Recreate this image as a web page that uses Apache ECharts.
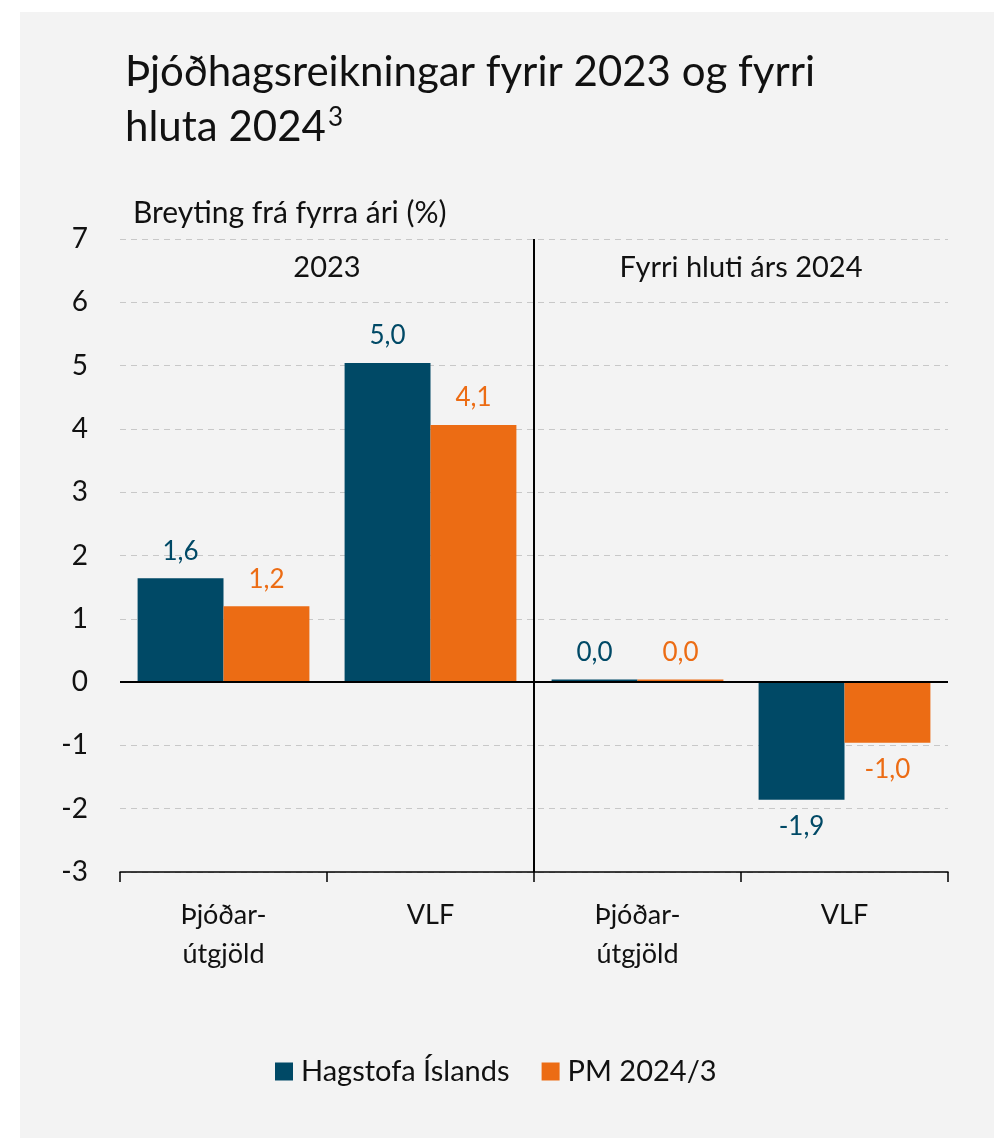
<!DOCTYPE html>
<html>
<head>
<meta charset="utf-8">
<script src="https://cdn.jsdelivr.net/npm/echarts@6/dist/echarts.min.js"></script>
<style>
  html, body { margin: 0; padding: 0; background: #ffffff; }
  #chart { position: absolute; left: 20px; top: 12px; width: 974px; height: 1126px; background: #f3f3f3; }
</style>
</head>
<body>
<div id="chart"></div>
<script>
const categories = ['Þjóðar-\nútgjöld', 'VLF', 'Þjóðar-\nútgjöld', 'VLF'];
const groups = ['2023', 'Fyrri hluti árs 2024'];
const groupBoundary = 2; // index of the category where the second group starts
const seriesNames = ['Hagstofa Íslands', 'PM 2024/3'];
const hagstofa = [1.64, 5.04, 0.04, -1.86];
const pm = [1.2, 4.06, 0.04, -0.96];
const yTicks = { min: -3, max: 7, interval: 1 };

const FONT = 'Lato';
const NAVY = '#004966';
const ORANGE = '#EC6C14';

function buildData(vals) {
  return vals.map(v => ({ value: v, label: { position: v < 0 ? 'bottom' : 'top' } }));
}
function fmt(p) { return p.value.toFixed(1).replace('.', ','); }

const chart = echarts.init(document.getElementById('chart'));
chart.setOption({
  backgroundColor: '#f3f3f3',
  textStyle: { fontFamily: FONT },
  title: [
    {
      text: 'Þjóðhagsreikningar fyrir 2023 og fyrri\nhluta 2024{sup|3}',
      left: 100, top: 28,
      textStyle: {
        fontFamily: FONT, fontSize: 42, fontWeight: 'normal', color: '#111', lineHeight: 55,
        rich: { sup: { fontFamily: FONT, fontSize: 26, color: '#111', verticalAlign: 'top', padding: [5, 0, 0, 2] } }
      }
    },
    {
      text: 'Breyting frá fyrra ári (%)',
      left: 108, top: 181,
      textStyle: { fontFamily: FONT, fontSize: 30, fontWeight: 'normal', color: '#111' }
    }
  ],
  legend: {
    data: seriesNames,
    left: 250, top: 1040,
    icon: 'rect', itemWidth: 18, itemHeight: 18, itemGap: 32,
    textStyle: { fontFamily: FONT, fontSize: 29, color: '#111', padding: [0, 0, 0, 3] }
  },
  grid: { left: 100, right: 46, top: 227, bottom: 266 },
  xAxis: [
    {
      type: 'category', data: categories, position: 'bottom',
      axisLine: { onZero: false, lineStyle: { color: '#000', width: 1.5 } },
      axisTick: { show: true, length: 10, lineStyle: { color: '#000', width: 1.5 } },
      axisLabel: { fontFamily: FONT, fontSize: 27, color: '#111', margin: 24, lineHeight: 39 },
      splitLine: { show: false }
    },
    {
      type: 'category', data: groups, position: 'top',
      axisLine: { show: false }, axisTick: { show: false },
      axisLabel: { inside: true, fontFamily: FONT, fontSize: 29, color: '#111', margin: 14 },
      splitLine: { show: false }
    },
    {
      type: 'value', min: 0, max: categories.length, show: false,
      splitLine: { show: false }
    }
  ],
  yAxis: {
    type: 'value', min: yTicks.min, max: yTicks.max, interval: yTicks.interval,
    axisLine: { show: false }, axisTick: { show: false },
    axisLabel: { fontFamily: FONT, fontSize: 28, color: '#111', margin: 32 },
    splitLine: { lineStyle: { color: '#c8c8c8', type: [6, 5], width: 1 } }
  },
  series: [
    {
      name: seriesNames[0], type: 'bar', data: buildData(hagstofa),
      itemStyle: { color: NAVY },
      barGap: '0%', barCategoryGap: '17%',
      label: { show: true, distance: 14, formatter: fmt, fontFamily: FONT, fontSize: 26, color: NAVY },
      markLine: {
        silent: true, symbol: 'none', label: { show: false },
        lineStyle: { color: '#000', type: 'solid', width: 2 },
        data: [{ yAxis: 0 }], z: 10
      }
    },
    {
      name: seriesNames[1], type: 'bar', data: buildData(pm),
      itemStyle: { color: ORANGE },
      barGap: '0%', barCategoryGap: '17%',
      label: { show: true, distance: 14, formatter: fmt, fontFamily: FONT, fontSize: 26, color: ORANGE }
    },
    {
      name: 'divider', type: 'line', xAxisIndex: 2, yAxisIndex: 0, data: [],
      silent: true,
      markLine: {
        silent: true, symbol: 'none', label: { show: false },
        lineStyle: { color: '#000', type: 'solid', width: 2 },
        data: [{ xAxis: groupBoundary }], z: 10
      }
    }
  ]
});
</script>
</body>
</html>
